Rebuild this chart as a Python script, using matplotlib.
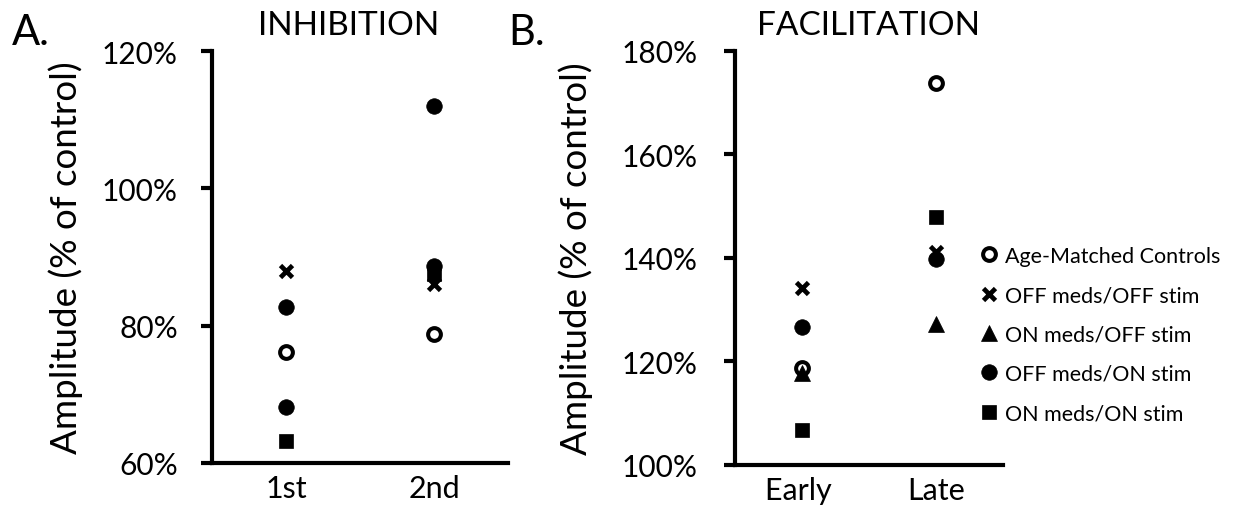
import matplotlib
matplotlib.use("Agg")
import matplotlib.pyplot as plt
from matplotlib.lines import Line2D

plt.rcParams['font.family'] = ['Lato', 'DejaVu Sans']

# panel A: inhibition
inh_cats = ['1st', '2nd']
inh_age_matched = [76.2, 78.8]
inh_off_off = [88.0, 86.0]
inh_on_off = [68.2, 88.7]
inh_off_on = [82.7, 112.0]
inh_on_on = [63.2, 87.5]

# panel B: facilitation
fac_cats = ['Early ', 'Late']
fac_age_matched = [118.8, 173.8]
fac_off_off = [134.2, 141.2]
fac_on_off = [117.8, 127.3]
fac_off_on = [126.7, 139.8]
fac_on_on = [106.8, 147.9]

labels = ['Age-Matched Controls', 'OFF meds/OFF stim', 'ON meds/OFF stim',
          'OFF meds/ON stim', 'ON meds/ON stim']

styles = [
    dict(marker='o', mfc='white', mec='black', ms=9.2, mew=2.9),
    dict(marker='x', mfc='black', mec='black', ms=9, mew=3.4),
    dict(marker='^', mfc='black', mec='black', ms=11, mew=0.5),
    dict(marker='o', mfc='black', mec='black', ms=11.2, mew=0.5),
    dict(marker='s', mfc='black', mec='black', ms=10.3, mew=0.5),
]

fig = plt.figure(figsize=(12.59, 5.10), dpi=100)
axA = fig.add_axes([212 / 1259, 1 - 464 / 510, 296 / 1259, 412 / 510])
axB = fig.add_axes([735 / 1259, 1 - 466 / 510, 268 / 1259, 414 / 510])


def style_axis(ax, cats, ymin, ymax, step, ypad):
    ax.set_xlim(0, 2)
    ax.set_ylim(ymin, ymax)
    ax.set_xticks([0.5, 1.5])
    ax.set_xticklabels(cats, fontsize=22)
    ticks = list(range(ymin, ymax + 1, step))
    ax.set_yticks(ticks)
    ax.set_yticklabels(['%d%%' % t for t in ticks], fontsize=21.5)
    for s in ['top', 'right']:
        ax.spines[s].set_visible(False)
    for s in ['left', 'bottom']:
        ax.spines[s].set_linewidth(3)
    ax.tick_params(axis='y', length=8, width=3, pad=ypad)
    ax.tick_params(axis='x', length=0, pad=8)
    ax.set_ylabel('Amplitude (% of control)', fontsize=26.5)


groups_A = [inh_age_matched, inh_off_off, inh_on_off, inh_off_on, inh_on_on]
groups_B = [fac_age_matched, fac_off_off, fac_on_off, fac_off_on, fac_on_on]

x = [0.5, 1.5]
for i, vals in enumerate(groups_A):
    st = styles[i]
    if i == 2:
        # triangle series shows as a filled circle in panel A
        st = styles[3]
    axA.plot(x, vals, linestyle='none', clip_on=False, **st)
for i, vals in enumerate(groups_B):
    axB.plot(x, vals, linestyle='none', clip_on=False, **styles[i])

style_axis(axA, inh_cats, 60, 120, 20, 16.5)
style_axis(axB, fac_cats, 100, 180, 20, 19)
axA.set_title('INHIBITION', fontsize=24, pad=12, x=0.46)
axB.set_title('FACILITATION', fontsize=24, pad=12)
axA.yaxis.set_label_coords(-0.436, 0.5)
axB.yaxis.set_label_coords(-0.53, 0.5)

handles = [Line2D([], [], linestyle='none', **st) for st in styles]
fig.legend(handles, labels, loc='center left', bbox_to_anchor=(980 / 1259, 1 - 335.5 / 510),
           frameon=False, fontsize=15.5, handlelength=0.85, handletextpad=0.3,
           labelspacing=0.9, borderpad=0, borderaxespad=0)

fig.text(12 / 1259, 1 - 45 / 510, 'A.', fontsize=30, va='baseline')
fig.text(508 / 1259, 1 - 45 / 510, 'B.', fontsize=30, va='baseline')

fig.savefig('out.png', dpi=100)
